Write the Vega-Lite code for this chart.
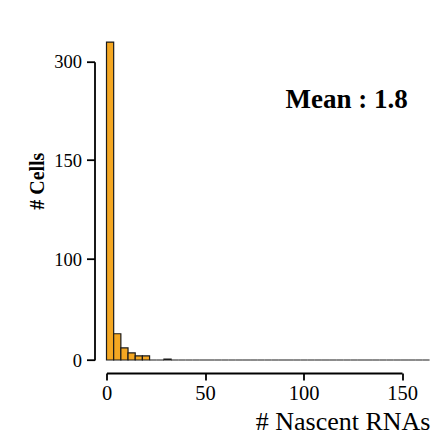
{
  "$schema": "https://vega.github.io/schema/vega-lite/v6.json",
  "autosize": {"type": "none"},
  "padding": {"left": 106.5, "top": 61.7, "right": 30, "bottom": 77},
  "width": 295.5,
  "height": 298.3,
  "background": "white",
  "config": {"view": {"stroke": null}},
  "datasets": {
    "bins": [
      {"lo": 0, "hi": 3.64, "n": 330},
      {"lo": 3.64, "hi": 7.29, "n": 26},
      {"lo": 7.29, "hi": 10.93, "n": 12},
      {"lo": 10.93, "hi": 14.58, "n": 7},
      {"lo": 14.58, "hi": 18.22, "n": 4},
      {"lo": 18.22, "hi": 21.87, "n": 4},
      {"lo": 21.87, "hi": 25.51, "n": 0},
      {"lo": 25.51, "hi": 29.16, "n": 0},
      {"lo": 29.16, "hi": 32.8, "n": 1},
      {"lo": 32.8, "hi": 36.44, "n": 0},
      {"lo": 36.44, "hi": 40.09, "n": 0},
      {"lo": 40.09, "hi": 43.73, "n": 0},
      {"lo": 43.73, "hi": 47.38, "n": 0},
      {"lo": 47.38, "hi": 51.02, "n": 0},
      {"lo": 51.02, "hi": 54.67, "n": 0},
      {"lo": 54.67, "hi": 58.31, "n": 0},
      {"lo": 58.31, "hi": 61.96, "n": 0},
      {"lo": 61.96, "hi": 65.6, "n": 0},
      {"lo": 65.6, "hi": 69.24, "n": 0},
      {"lo": 69.24, "hi": 72.89, "n": 0},
      {"lo": 72.89, "hi": 76.53, "n": 0},
      {"lo": 76.53, "hi": 80.18, "n": 0},
      {"lo": 80.18, "hi": 83.82, "n": 0},
      {"lo": 83.82, "hi": 87.47, "n": 0},
      {"lo": 87.47, "hi": 91.11, "n": 0},
      {"lo": 91.11, "hi": 94.76, "n": 0},
      {"lo": 94.76, "hi": 98.4, "n": 0},
      {"lo": 98.4, "hi": 102.04, "n": 0},
      {"lo": 102.04, "hi": 105.69, "n": 0},
      {"lo": 105.69, "hi": 109.33, "n": 0},
      {"lo": 109.33, "hi": 112.98, "n": 0},
      {"lo": 112.98, "hi": 116.62, "n": 0},
      {"lo": 116.62, "hi": 120.27, "n": 0},
      {"lo": 120.27, "hi": 123.91, "n": 0},
      {"lo": 123.91, "hi": 127.56, "n": 0},
      {"lo": 127.56, "hi": 131.2, "n": 0},
      {"lo": 131.2, "hi": 134.84, "n": 0},
      {"lo": 134.84, "hi": 138.49, "n": 0},
      {"lo": 138.49, "hi": 142.13, "n": 0},
      {"lo": 142.13, "hi": 145.78, "n": 0},
      {"lo": 145.78, "hi": 149.42, "n": 0},
      {"lo": 149.42, "hi": 153.07, "n": 0},
      {"lo": 153.07, "hi": 156.71, "n": 0},
      {"lo": 156.71, "hi": 160.36, "n": 0},
      {"lo": 160.36, "hi": 164, "n": 0}
    ],
    "note": [
      {"label": "Mean : 1.8", "x": 152.9, "y": 230}
    ]
  },
  "layer": [
    {
      "data": {"name": "bins"},
      "mark": {"type": "bar", "fill": "#F4A722", "stroke": "#1a1a1a", "strokeWidth": 1.2, "clip": false},
      "encoding": {
        "x": {
          "field": "lo", "type": "quantitative",
          "scale": {"domain": [0, 150], "nice": false, "zero": false},
          "axis": {
            "values": [0, 50, 100, 150],
            "offset": 13,
            "tickSize": 7,
            "tickWidth": 1.8,
            "domainWidth": 1.8,
            "domainColor": "black",
            "tickColor": "black",
            "grid": false,
            "labelFont": "Liberation Serif",
            "labelFontSize": 20.5,
            "labelColor": "black",
            "labelPadding": 3,
            "labelFlush": false,
            "title": "# Nascent RNAs",
            "titleFont": "Liberation Serif",
            "titleFontSize": 26,
            "titleFontWeight": "normal",
            "titleColor": "black",
            "titleAlign": "right",
            "titleAnchor": null,
            "titleBaseline": "alphabetic",
            "titleX": 323.5,
            "titleY": 56
          }
        },
        "x2": {"field": "hi"},
        "y": {
          "field": "n", "type": "quantitative",
          "scale": {"domain": [0, 100, 150, 300], "range": [298.3, 197.3, 98.3, 0], "nice": false, "zero": false},
          "axis": {
            "values": [0, 100, 150, 300],
            "offset": 12,
            "tickSize": 8,
            "tickWidth": 1.8,
            "domainWidth": 1.8,
            "domainColor": "black",
            "tickColor": "black",
            "grid": false,
            "labelFont": "Liberation Serif",
            "labelFontSize": 18.5,
            "labelColor": "black",
            "labelPadding": 5,
            "labelFlush": false,
            "title": "# Cells",
            "titleFont": "Liberation Serif",
            "titleFontSize": 20,
            "titleFontWeight": "bold",
            "titleColor": "black",
            "titleAngle": -90,
            "titleAlign": "center",
            "titleAnchor": null,
            "titleBaseline": "middle",
            "titleX": -57.5,
            "titleY": 119
          }
        },
        "y2": {"datum": 0}
      }
    },
    {
      "data": {"name": "note"},
      "mark": {"type": "text", "align": "right", "baseline": "alphabetic", "font": "Liberation Serif", "fontSize": 27, "fontWeight": "bold", "color": "black"},
      "encoding": {
        "x": {"field": "x", "type": "quantitative"},
        "y": {"field": "y", "type": "quantitative"},
        "text": {"field": "label"}
      }
    }
  ]
}
